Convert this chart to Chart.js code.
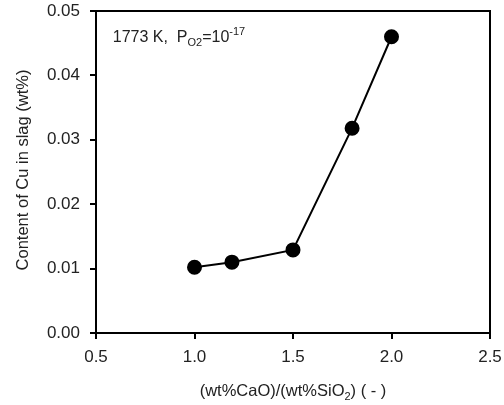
<!DOCTYPE html>
<html>
<head>
<meta charset="utf-8">
<script src="https://cdn.jsdelivr.net/npm/chart.js@4.4.1/dist/chart.umd.min.js"></script>
<style>
  html, body { margin: 0; padding: 0; background: #fff; }
  #wrap { width: 504px; height: 405px; }
</style>
</head>
<body>
<div id="wrap"><canvas id="chart" width="504" height="405"></canvas></div>
<script>
// basicity ratio and Cu content in slag
const basicity = [1.0, 1.19, 1.5, 1.8, 2.0];
const cuContent = [0.0102, 0.011, 0.0129, 0.0318, 0.046];
const xTicks = [0.5, 1.0, 1.5, 2.0, 2.5];
const yTicks = [0.0, 0.01, 0.02, 0.03, 0.04, 0.05];

const FONT = "'Liberation Sans', Arial, sans-serif";

// draws frame, axis titles and the condition label (with sub/superscripts)
const extras = {
  id: "extras",
  afterDraw(chart) {
    const ctx = chart.ctx;
    const a = chart.chartArea;
    const xs = chart.scales.x, ys = chart.scales.y;
    ctx.save();
    ctx.strokeStyle = "#000";
    ctx.lineWidth = 2;
    ctx.strokeRect(a.left, a.top, a.right - a.left, a.bottom - a.top);

    ctx.fillStyle = "#222";
    ctx.textBaseline = "alphabetic";

    // label inside the plot
    let x = xs.getPixelForValue(0.585);
    let y = ys.getPixelForValue(0.0452);
    const parts = [
      ["1773 K,  P", 16, 0],
      ["O2", 11, 4],
      ["=10", 16, 0],
      ["-17", 11, -7]
    ];
    ctx.textAlign = "left";
    parts.forEach(([t, s, dy]) => {
      ctx.font = s + "px " + FONT;
      ctx.fillText(t, x, y + dy);
      x += ctx.measureText(t).width;
    });

    // x axis title
    const xt = [["(wt%CaO)/(wt%SiO", 16.5, 0], ["2", 11, 4], [") ( - )", 16.5, 0]];
    let w = 0;
    xt.forEach(([t, s]) => { ctx.font = s + "px " + FONT; w += ctx.measureText(t).width; });
    x = (a.left + a.right) / 2 - w / 2;
    y = 396;
    xt.forEach(([t, s, dy]) => {
      ctx.font = s + "px " + FONT;
      ctx.fillText(t, x, y + dy);
      x += ctx.measureText(t).width;
    });

    // y axis title
    ctx.translate(28, 170);
    ctx.rotate(-Math.PI / 2);
    ctx.textAlign = "center";
    ctx.font = "16.5px " + FONT;
    ctx.fillText("Content of Cu in slag (wt%)", 0, 0);
    ctx.restore();
  }
};

new Chart(document.getElementById("chart"), {
  type: "scatter",
  data: {
    datasets: [
      {
        data: basicity.map((b, i) => ({ x: b, y: cuContent[i] })),
        showLine: true,
        borderColor: "#000",
        borderWidth: 2,
        backgroundColor: "#000",
        pointRadius: 6.5,
        pointHoverRadius: 6.5,
      },
    ],
  },
  options: {
    responsive: false,
    animation: false,
    layout: { padding: { top: 11, right: 14, left: 0, bottom: 0 } },
    plugins: { legend: { display: false }, tooltip: { enabled: false } },
    scales: {
      x: {
        type: "linear",
        min: xTicks[0],
        max: xTicks[xTicks.length - 1],
        afterBuildTicks: (s) => { s.ticks = xTicks.map((v) => ({ value: v })); },
        afterFit: (s) => { s.height = 72; s.paddingLeft = 0; s.paddingRight = 0; },
        border: { display: false },
        grid: { drawOnChartArea: false, drawTicks: true, tickLength: 6, color: "#000", lineWidth: 2 },
        ticks: {
          color: "#222",
          padding: 8,
          font: { family: FONT, size: 17 },
          callback: (v) => v.toFixed(1),
        },
      },
      y: {
        min: yTicks[0],
        max: yTicks[yTicks.length - 1],
        afterBuildTicks: (s) => { s.ticks = yTicks.map((v) => ({ value: v })); },
        afterFit: (s) => { s.width = 96; s.paddingTop = 0; s.paddingBottom = 0; },
        border: { display: false },
        grid: { drawOnChartArea: false, drawTicks: true, tickLength: 6, color: "#000", lineWidth: 2 },
        ticks: {
          color: "#222",
          padding: 10,
          font: { family: FONT, size: 17 },
          callback: (v) => v.toFixed(2),
        },
      },
    },
  },
  plugins: [extras],
});
</script>
</body>
</html>
